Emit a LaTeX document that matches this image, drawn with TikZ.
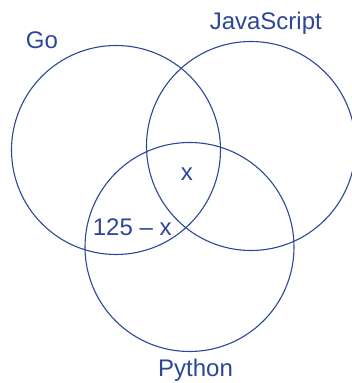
\documentclass[tikz,border=0pt]{standalone}
\usepackage{fontspec}
\setmainfont{Liberation Sans}
\definecolor{vennblue}{RGB}{44,70,152}
\begin{document}
\begin{tikzpicture}[x=1pt,y=1pt,
  set/.style={draw=vennblue,line width=1.1pt},
  lbl/.style={text=vennblue,inner sep=0pt,anchor=base,font=\fontsize{24}{28}\selectfont}]
  \useasboundingbox (0,0) rectangle (351,383);
  % the three sets
  \node[set,circle,minimum size=209pt,inner sep=0pt] (go) at (116,233) {};
  \node[set,circle,minimum size=209pt,inner sep=0pt] (js) at (251,237) {};
  \node[set,circle,minimum size=209pt,inner sep=0pt] (py) at (189.5,136) {};
  % set names
  \node[lbl] (goname) at (42,334) {Go};
  \node[lbl] (jsname) at (265.8,353) {JavaScript};
  \node[lbl] (pyname) at (195.5,6.3) {Python};
  % region counts
  \node[lbl] (all) at (186.8,202.3) {x};
  \node[lbl] (gopy) at (132.2,147.3) {125 – x};
\end{tikzpicture}
\end{document}
